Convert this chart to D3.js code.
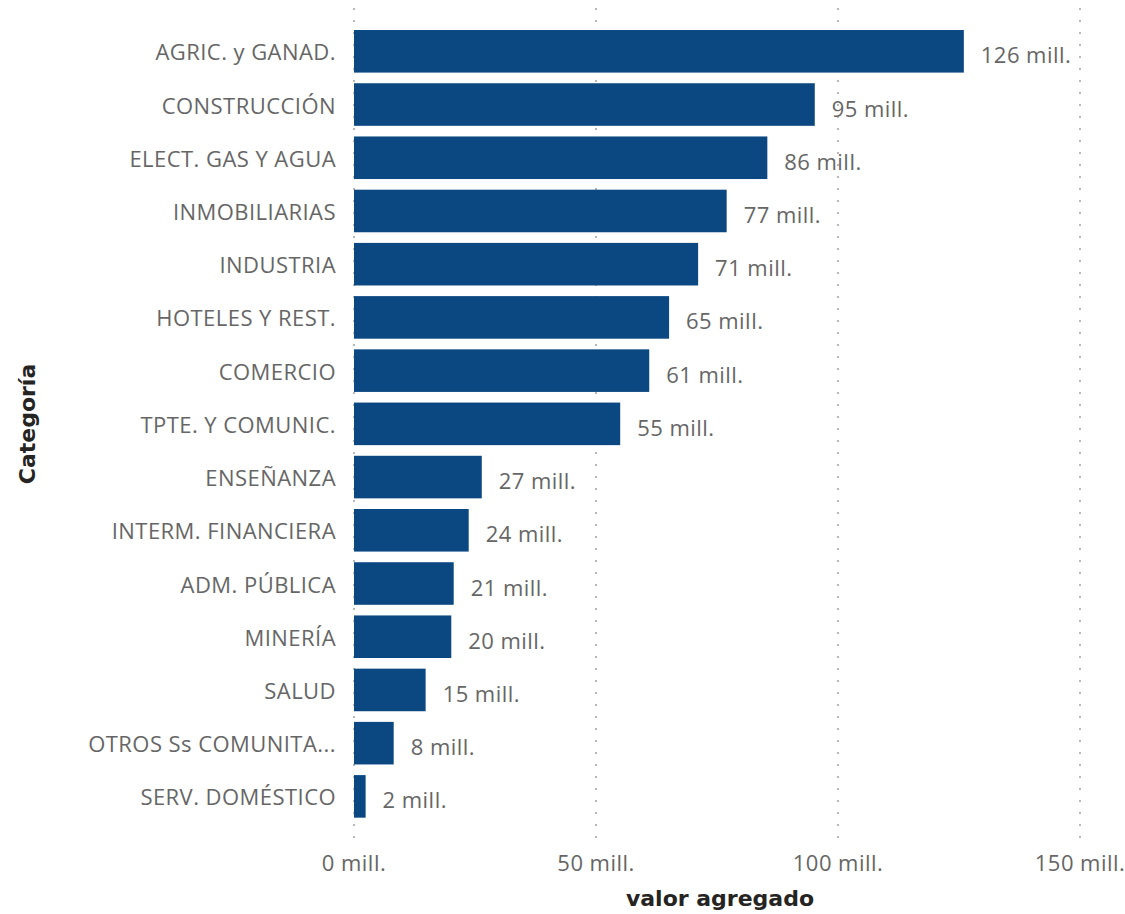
<!DOCTYPE html>
<html>
<head>
<meta charset="utf-8">
<script src="https://cdn.jsdelivr.net/npm/d3@7/dist/d3.min.js"></script>
<style>
  body { margin: 0; background: #fff; }
  svg { display: block; }
</style>
</head>
<body>
<svg id="chart" width="1125" height="914"></svg>
<script>
const categories = [
  "AGRIC. y GANAD.", "CONSTRUCCIÓN", "ELECT. GAS Y AGUA", "INMOBILIARIAS",
  "INDUSTRIA", "HOTELES Y REST.", "COMERCIO", "TPTE. Y COMUNIC.",
  "ENSEÑANZA", "INTERM. FINANCIERA", "ADM. PÚBLICA", "MINERÍA",
  "SALUD", "OTROS Ss COMUNITA...", "SERV. DOMÉSTICO"
];
const values = [126.0, 95.2, 85.4, 77.0, 71.1, 65.1, 61.0, 55.0, 26.4, 23.7, 20.6, 20.1, 14.8, 8.2, 2.4];
const valueLabels = ["126 mill.", "95 mill.", "86 mill.", "77 mill.", "71 mill.", "65 mill.", "61 mill.", "55 mill.",
  "27 mill.", "24 mill.", "21 mill.", "20 mill.", "15 mill.", "8 mill.", "2 mill."];
const xTicks = [0, 50, 100, 150];

const font = "'Open Sans', 'Noto Sans', sans-serif";
const textColor = "#666666";
const barColor = "#0b4882";
const fs = 22;
const ls = 0.45;

const svg = d3.select("#chart");

const x = d3.scaleLinear().domain([0, 150]).range([354, 1080]);
const y = d3.scaleBand().domain(categories).range([24.7, 823]).paddingInner(0.2).paddingOuter(0.1);

// dotted gridlines
svg.append("g")
  .selectAll("line")
  .data(xTicks)
  .join("line")
  .attr("x1", d => x(d)).attr("x2", d => x(d))
  .attr("y1", 8).attr("y2", 840)
  .attr("stroke", "#b8b8b8")
  .attr("stroke-width", 2)
  .attr("stroke-dasharray", "2 10");

// bars
svg.append("g")
  .selectAll("rect")
  .data(values)
  .join("rect")
  .attr("x", x(0))
  .attr("y", (d, i) => y(categories[i]))
  .attr("width", d => x(d) - x(0))
  .attr("height", y.bandwidth())
  .attr("fill", barColor);

function styleText(sel) {
  return sel
    .attr("dominant-baseline", "central")
    .attr("font-family", font)
    .attr("font-size", fs)
    .attr("letter-spacing", ls)
    .attr("fill", textColor);
}

// value labels
svg.append("g")
  .selectAll("text")
  .data(values)
  .join("text")
  .attr("x", d => x(d) + 17)
  .attr("y", (d, i) => y(categories[i]) + y.bandwidth() / 2 + 3)
  .call(styleText)
  .text((d, i) => valueLabels[i]);

// category labels
svg.append("g")
  .selectAll("text")
  .data(categories)
  .join("text")
  .attr("x", 336)
  .attr("y", d => y(d) + y.bandwidth() / 2)
  .attr("text-anchor", "end")
  .call(styleText)
  .text(d => d);

// x tick labels
svg.append("g")
  .selectAll("text")
  .data(xTicks)
  .join("text")
  .attr("x", d => x(d))
  .attr("y", 862)
  .attr("text-anchor", "middle")
  .call(styleText)
  .text(d => d + " mill.");

// axis titles
svg.append("text")
  .attr("x", 720)
  .attr("y", 898)
  .attr("text-anchor", "middle")
  .attr("dominant-baseline", "central")
  .attr("font-family", "'DejaVu Sans', sans-serif")
  .attr("font-weight", "bold")
  .attr("font-size", 22)
  .attr("fill", "#252423")
  .text("valor agregado");

svg.append("text")
  .attr("transform", "translate(27,424) rotate(-90)")
  .attr("text-anchor", "middle")
  .attr("dominant-baseline", "central")
  .attr("font-family", "'DejaVu Sans', sans-serif")
  .attr("font-weight", "bold")
  .attr("font-size", 22)
  .attr("fill", "#252423")
  .text("Categoría");
</script>
</body>
</html>
